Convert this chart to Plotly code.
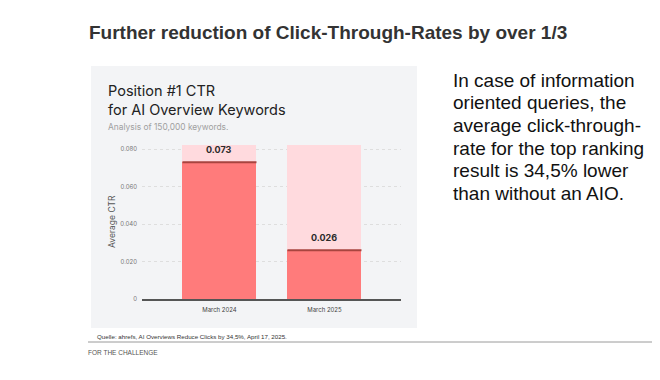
import plotly.graph_objects as go

# ---- data ----
categories = ["March 2024", "March 2025"]
ctr_values = [0.073, 0.026]
bg_values = [0.082, 0.082]
value_labels = ["0.073", "0.026"]
tick_vals = [0, 0.02, 0.04, 0.06, 0.08]
tick_text = ["0", "0.020", "0.040", "0.060", "0.080"]
side_text_lines = [
    "In case of information",
    "oriented queries, the",
    "average click-through-",
    "rate for the top ranking",
    "result is 34,5% lower",
    "than without an AIO.",
]

# ---- layout geometry (pixels; page body has an 8px margin) ----
OFF = 8
W_FIG, H_FIG = 660 - OFF, 380 - OFF
PLOT_LEFT, PLOT_RIGHT, PLOT_TOP, PLOT_BOTTOM = 142, 401, 140, 299  # in screen pixels
L = PLOT_LEFT - OFF
T = PLOT_TOP - OFF
R = W_FIG - (PLOT_RIGHT - OFF)
B = H_FIG - (PLOT_BOTTOM - OFF)
PW = PLOT_RIGHT - PLOT_LEFT
PH = PLOT_BOTTOM - PLOT_TOP


def px(x):
    return (x - PLOT_LEFT) / PW


def py(y):
    return (PLOT_BOTTOM - y) / PH


BAR_W = 0.705
PANEL = "#F3F4F6"
DARK = "#FF7B7B"
LIGHT = "#FFDADE"
TOPLINE = "#A8443F"

fig = go.Figure()
fig.add_trace(go.Bar(x=categories, y=bg_values, width=BAR_W, marker=dict(color=LIGHT, line=dict(width=0)),
                     hoverinfo="skip", showlegend=False))
fig.add_trace(go.Bar(x=categories, y=ctr_values, width=BAR_W, marker=dict(color=DARK, line=dict(width=0)),
                     showlegend=False))

shapes = []
shapes.append(dict(type="rect", xref="paper", yref="paper", x0=px(91), x1=px(417), y0=py(328), y1=py(66),
                   fillcolor=PANEL, line=dict(width=0), layer="below"))
for i, v in enumerate(ctr_values):
    shapes.append(dict(type="line", xref="x", yref="y", x0=i - BAR_W / 2, x1=i + BAR_W / 2, y0=v, y1=v,
                       line=dict(color=TOPLINE, width=2)))
shapes.append(dict(type="line", xref="paper", yref="paper", x0=px(88), x1=px(680), y0=py(342), y1=py(342),
                   line=dict(color="#9a9a9a", width=1)))

annotations = []
for i, (v, lab) in enumerate(zip(ctr_values, value_labels)):
    annotations.append(dict(x=i, y=v, xref="x", yref="y", text="<b>" + lab + "</b>", showarrow=False,
                            yanchor="bottom", yshift=5, font=dict(family="Inter", size=9, color="#2b2b2b")))

annotations += [
    dict(x=px(87), y=py(33), xref="paper", yref="paper", xanchor="left", yanchor="middle", showarrow=False,
         text="<b>Further reduction of Click-Through-Rates by over 1/3</b>",
         font=dict(family="Liberation Sans", size=19, color="#333333")),
    dict(x=px(106), y=py(100), xref="paper", yref="paper", xanchor="left", yanchor="middle", showarrow=False,
         align="left", text="Position #1 CTR<br>for AI Overview Keywords",
         font=dict(family="Inter", size=14.5, color="#222222")),
    dict(x=px(106), y=py(127.5), xref="paper", yref="paper", xanchor="left", yanchor="middle", showarrow=False,
         text="Analysis of 150,000 keywords.", font=dict(family="Inter", size=8.4, color="#a0a0a0")),
    dict(x=px(112), y=py(222), xref="paper", yref="paper", xanchor="center", yanchor="middle", showarrow=False,
         textangle=-90, text="Average CTR", font=dict(family="Inter", size=8.5, color="#555555")),
    dict(x=px(95), y=py(336), xref="paper", yref="paper", xanchor="left", yanchor="middle", showarrow=False,
         text="Quelle: ahrefs, AI Overviews Reduce Clicks by 34,5%, April 17, 2025.",
         font=dict(family="Liberation Sans", size=6.2, color="#333333")),
    dict(x=px(86), y=py(352), xref="paper", yref="paper", xanchor="left", yanchor="middle", showarrow=False,
         text="FOR THE CHALLENGE", font=dict(family="Liberation Sans", size=6.5, color="#555555")),
]
for k, line in enumerate(side_text_lines):
    annotations.append(dict(x=px(451), y=py(80 + 22.7 * k), xref="paper", yref="paper", xanchor="left",
                            yanchor="middle", showarrow=False, text=line,
                            font=dict(family="Liberation Sans", size=19, color="#111111")))

fig.update_layout(
    width=W_FIG, height=H_FIG,
    margin=dict(l=L, r=R, t=T, b=B, pad=0),
    paper_bgcolor="white", plot_bgcolor=PANEL,
    barmode="overlay", bargap=0,
    shapes=shapes, annotations=annotations,
    showlegend=False,
)
fig.update_xaxes(range=[-0.738, 1.729], showline=True, linecolor="#555555", linewidth=1.5, showgrid=False,
                 ticks="", tickfont=dict(family="Inter", size=6, color="#444444"), ticklabelstandoff=4)
fig.update_yaxes(range=[0, PH / 1875], tickvals=tick_vals, ticktext=tick_text, showgrid=True,
                 gridcolor="#dedede", griddash="dot", gridwidth=1, zeroline=False, showline=False, ticks="",
                 tickfont=dict(family="Inter", size=6, color="#777777"), ticklabelstandoff=4)

fig.write_html("out.html")
